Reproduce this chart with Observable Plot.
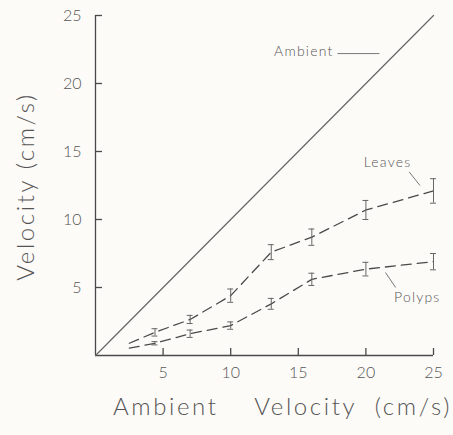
<!DOCTYPE html>
<html>
<head>
<meta charset="utf-8">
<script src="https://cdn.jsdelivr.net/npm/d3@7"></script>
<script src="https://cdn.jsdelivr.net/npm/@observablehq/plot@0.6"></script>
<style>
  html, body { margin: 0; padding: 0; background: #fdfbf8; }
  .xlab text { letter-spacing: 2.6px; }
  .ylab text { letter-spacing: 2.6px; }
  .ann text { letter-spacing: 1.2px; }
</style>
</head>
<body>
<div id="chart"></div>
<script>
// Data
const ambientVel = [2.5, 4.4, 7, 10, 13, 16, 20, 25];
const leavesVel  = [0.9, 1.7, 2.65, 4.4, 7.6, 8.7, 10.7, 12.1];
const leavesErr  = [0, 0.27, 0.3, 0.49, 0.55, 0.6, 0.7, 0.9];
const polypsVel  = [0.54, 0.9, 1.6, 2.2, 3.8, 5.6, 6.35, 6.9];
const polypsErr  = [0, 0.12, 0.27, 0.27, 0.4, 0.45, 0.5, 0.6];
const ambientLine = [0, 25];
const tickValues = [5, 10, 15, 20, 25];

const leaves = ambientVel.map((x, i) => ({x, y: leavesVel[i], e: leavesErr[i]}));
const polyps = ambientVel.map((x, i) => ({x, y: polypsVel[i], e: polypsErr[i]}));
const bars = [...leaves, ...polyps].filter(d => d.e > 0);
const cap = 0.22;

// annotation anchors (data units)
const ambientLabel = [{text: "Ambient", x: 17.6, y: 22.35}];
const seriesLabels = [
  {text: "Leaves", x: 21.6, y: 14.2},
  {text: "Polyps", x: 23.8, y: 4.25}
];
const leaders = [
  {x1: 17.9, y1: 22.2, x2: 21.0, y2: 22.2},
  {x1: 23.2, y1: 13.5, x2: 24.0, y2: 12.5},
  {x1: 21.45, y1: 6.1, x2: 22.2, y2: 5.0}
];

const ink = "#4a4a4a";
const W = 453, H = 435, ML = 95, MR = 20, MT = 15, MB = 80;
const tickLen = 7;

const chart = Plot.plot({
  width: W,
  height: H,
  marginLeft: ML,
  marginRight: MR,
  marginTop: MT,
  marginBottom: MB,
  x: {domain: [0, 25]},
  y: {domain: [0, 25]},
  style: {background: "#fdfbf8", fontFamily: "Lato, 'DejaVu Sans', sans-serif", fontWeight: 300, color: "#555", overflow: "visible"},
  marks: [
    Plot.ruleX([0], {y1: 0, y2: 25, stroke: ink, strokeWidth: 1.3}),
    Plot.ruleY([0], {x1: 0, x2: 25, stroke: ink, strokeWidth: 1.3}),
    Plot.tickY(tickValues, {y: d => d, insetRight: (W - ML - MR) - tickLen, stroke: ink, strokeWidth: 1.3}),
    Plot.tickX(tickValues, {x: d => d, insetTop: (H - MT - MB) - tickLen, stroke: ink, strokeWidth: 1.3}),
    Plot.axisX({ticks: tickValues, tickSize: 0, tickPadding: 11, label: null, fontSize: 16, fill: "#555"}),
    Plot.axisY({ticks: tickValues, tickSize: 0, tickPadding: 14, label: null, fontSize: 16, fill: "#555"}),
    Plot.line(ambientLine, {x: d => d, y: d => d, stroke: "#666", strokeWidth: 1.2}),
    Plot.line(leaves, {x: "x", y: "y", stroke: ink, strokeWidth: 1.3, strokeDasharray: "10,6"}),
    Plot.line(polyps, {x: "x", y: "y", stroke: ink, strokeWidth: 1.3, strokeDasharray: "10,6"}),
    Plot.ruleX(bars, {x: "x", y1: d => d.y - d.e, y2: d => d.y + d.e, stroke: "#666", strokeWidth: 1}),
    Plot.ruleY(bars, {y: d => d.y - d.e, x1: d => d.x - cap, x2: d => d.x + cap, stroke: "#666", strokeWidth: 1}),
    Plot.ruleY(bars, {y: d => d.y + d.e, x1: d => d.x - cap, x2: d => d.x + cap, stroke: "#666", strokeWidth: 1}),
    Plot.link(leaders, {x1: "x1", y1: "y1", x2: "x2", y2: "y2", stroke: "#777", strokeWidth: 1}),
    Plot.text(ambientLabel, {x: "x", y: "y", text: "text", textAnchor: "end", fontSize: 14, fill: "#555", className: "ann"}),
    Plot.text(seriesLabels, {x: "x", y: "y", text: "text", textAnchor: "middle", fontSize: 14, fill: "#555", className: "ann"}),
    Plot.text(["Ambient\u00a0\u00a0\u00a0\u00a0Velocity\u00a0\u00a0(cm/s)"], {frameAnchor: "bottom", dx: 18, dy: 52, fontSize: 24, fill: "#555", lineAnchor: "middle", textAnchor: "middle", className: "xlab"}),
    Plot.text(["Velocity\u00a0(cm/s)"], {frameAnchor: "left", textAnchor: "middle", dx: -69, dy: 1, rotate: -90, fontSize: 24, fill: "#555", className: "ylab"})
  ]
});
document.getElementById("chart").appendChild(chart);
</script>
</body>
</html>
